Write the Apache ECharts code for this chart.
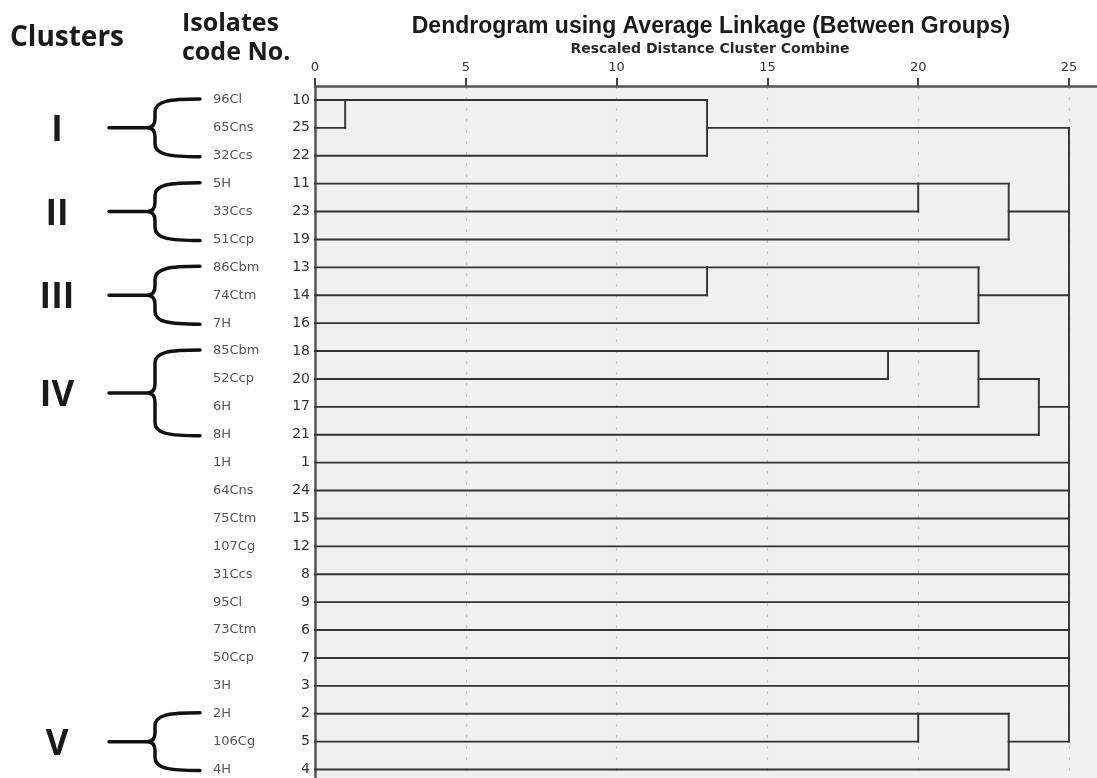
<!DOCTYPE html>
<html>
<head>
<meta charset="utf-8">
<script src="https://cdn.jsdelivr.net/npm/echarts@6/dist/echarts.min.js"></script>
<style>html,body{margin:0;padding:0;background:#fff;}#chart{width:1097px;height:778px;}</style>
</head>
<body>
<div id="chart"></div>
<script>
// ---- data ----
const codes = [10, 25, 22, 11, 23, 19, 13, 14, 16, 18, 20, 17, 21, 1, 24, 15, 12, 8, 9, 6, 7, 3, 2, 5, 4];
const isolates = ['96Cl', '65Cns', '32Ccs', '5H', '33Ccs', '51Ccp', '86Cbm', '74Ctm', '7H', '85Cbm', '52Ccp', '6H', '8H',
  '1H', '64Cns', '75Ctm', '107Cg', '31Ccs', '95Cl', '73Ctm', '50Ccp', '3H', '2H', '106Cg', '4H'];
// merges in order (children are leaf code numbers or merge ids m1..m12)
const mergeChildren = [
  ['10', '25'], ['m1', '22'],
  ['11', '23'], ['m3', '19'],
  ['13', '14'], ['m5', '16'],
  ['18', '20'], ['m7', '17'], ['m8', '21'],
  ['2', '5'], ['m10', '4'],
  ['m2', 'm4', 'm6', 'm9', '1', '24', '15', '12', '8', '9', '6', '7', '3', 'm11']
];
const mergeDistance = [1, 13, 20, 23, 13, 22, 19, 22, 24, 20, 23, 25];
const clusterNames = ['I', 'II', 'III', 'IV', 'V'];
const clusterFirstRow = [0, 3, 6, 9, 22];
const clusterLastRow = [2, 5, 8, 12, 24];
const axisTitle = 'Rescaled Distance Cluster Combine';
const chartTitle = 'Dendrogram using Average Linkage (Between Groups)';

// ---- build dendrogram segments (in data units: distance, row index) ----
const pos = {};
codes.forEach((c, i) => { pos[String(c)] = { x: 0, y: i }; });
const segments = [];
mergeChildren.forEach((children, k) => {
  const d = mergeDistance[k];
  let minY = Infinity, maxY = -Infinity;
  children.forEach(ch => {
    const p = pos[ch];
    segments.push([p.x, p.y, d, p.y]);
    minY = Math.min(minY, p.y); maxY = Math.max(maxY, p.y);
  });
  segments.push([d, minY, d, maxY]);
  pos['m' + (k + 1)] = { x: d, y: Math.floor((minY + maxY) / 2) };
});
const braceData = clusterNames.map((n, i) => [0, clusterFirstRow[i], clusterLastRow[i], i]);

const chart = echarts.init(document.getElementById('chart'));
const GL = 315;
chart.setOption({
  backgroundColor: '#ffffff',
  animation: false,
  grid: { left: GL, top: 86, width: 26 * 30.16, height: 25 * 27.9, show: true, backgroundColor: '#f0f0f0', borderWidth: 0, outerBoundsMode: 'none', containLabel: false },
  graphic: [
    { type: 'text', style: { text: 'Clusters', x: 10, y: 38, textVerticalAlign: 'middle', font: 'bold 28px "Open Sans"', fill: '#1a1a1a' } },
    { type: 'text', style: { text: 'Isolates', x: 182, y: 24, textVerticalAlign: 'middle', font: 'bold 25px "Open Sans"', fill: '#1a1a1a' } },
    { type: 'text', style: { text: 'code No.', x: 182, y: 53, textVerticalAlign: 'middle', font: 'bold 25px "Open Sans"', fill: '#1a1a1a' } },
    { type: 'text', style: { text: chartTitle, x: 711, y: 27, textAlign: 'center', textVerticalAlign: 'middle', font: 'bold 23px "Liberation Sans"', fill: '#1a1a1a' } },
    { type: 'text', style: { text: axisTitle, x: 710, y: 49, textAlign: 'center', textVerticalAlign: 'middle', font: 'bold 14px "DejaVu Sans"', fill: '#2a2a2a' } }
  ],
  xAxis: {
    type: 'value', position: 'top', min: 0, max: 26, interval: 5,
    axisLine: { show: true, lineStyle: { color: '#555', width: 2.5 } },
    axisTick: { show: true, length: 8, inside: false, lineStyle: { color: '#444', width: 2 } },
    axisLabel: { margin: 12, fontSize: 13, fontFamily: 'DejaVu Sans', color: '#333', formatter: v => (v % 5 === 0 ? String(v) : '') },
    splitLine: { show: true, lineStyle: { color: '#c4c4c4', width: 1.2, type: [3, 8] } }
  },
  yAxis: [
    {
      type: 'category', inverse: true, data: codes.map(String), position: 'left',
      axisLine: { show: true, lineStyle: { color: '#555', width: 2.5 } },
      axisTick: { show: false },
      axisLabel: { margin: 5, fontSize: 14, fontFamily: 'DejaVu Sans', color: '#333' },
      splitLine: { show: false }
    },
    {
      type: 'category', inverse: true, data: isolates, position: 'left', offset: 0,
      axisLine: { show: false }, axisTick: { show: false },
      axisLabel: { margin: 102, align: 'left', fontSize: 13, fontFamily: 'DejaVu Sans', color: '#555' },
      splitLine: { show: false }
    }
  ],
  series: [
    {
      type: 'custom', name: 'dendrogram', xAxisIndex: 0, yAxisIndex: 0,
      data: segments, encode: { x: [0, 2], y: [1, 3] }, z: 3,
      renderItem: function (params, api) {
        const p1 = api.coord([api.value(0), api.value(1)]);
        const p2 = api.coord([api.value(2), api.value(3)]);
        return { type: 'line', shape: { x1: p1[0], y1: p1[1], x2: p2[0], y2: p2[1] }, style: { stroke: '#333', lineWidth: 1.9, lineCap: 'square' } };
      }
    },
    {
      type: 'custom', name: 'clusters', xAxisIndex: 0, yAxisIndex: 0, clip: false,
      data: braceData, encode: { x: 0, y: [1, 2] }, z: 4,
      renderItem: function (params, api) {
        const gx = api.coord([0, 0])[0];
        const top = api.coord([0, api.value(1)])[1] - 1;
        const bot = api.coord([0, api.value(2)])[1] + 1;
        const mid = (top + bot) / 2;
        const armEnd = gx - 115, spine = gx - 160, tip = gx - 168, stem = gx - 206;
        const d = 'M' + armEnd + ',' + top +
          ' C' + (spine + 14) + ',' + top + ' ' + spine + ',' + (top + 2) + ' ' + spine + ',' + (top + 13) +
          ' L' + spine + ',' + (mid - 9) +
          ' C' + spine + ',' + (mid - 3) + ' ' + (spine - 3) + ',' + mid + ' ' + tip + ',' + mid +
          ' C' + (spine - 3) + ',' + mid + ' ' + spine + ',' + (mid + 3) + ' ' + spine + ',' + (mid + 9) +
          ' L' + spine + ',' + (bot - 13) +
          ' C' + spine + ',' + (bot - 2) + ' ' + (spine + 14) + ',' + bot + ' ' + armEnd + ',' + bot +
          ' M' + stem + ',' + mid + ' L' + tip + ',' + mid;
        return {
          type: 'group', children: [
            { type: 'path', shape: { pathData: d }, style: { stroke: '#111', lineWidth: 3.5, fill: null, lineCap: 'round', lineJoin: 'round' } },
            { type: 'text', style: { text: clusterNames[api.value(3)], x: gx - 258, y: mid + 3, textAlign: 'center', textVerticalAlign: 'middle', font: 'bold 35px "Open Sans"', fill: '#1a1a1a' } }
          ]
        };
      }
    }
  ]
});
</script>
</body>
</html>
